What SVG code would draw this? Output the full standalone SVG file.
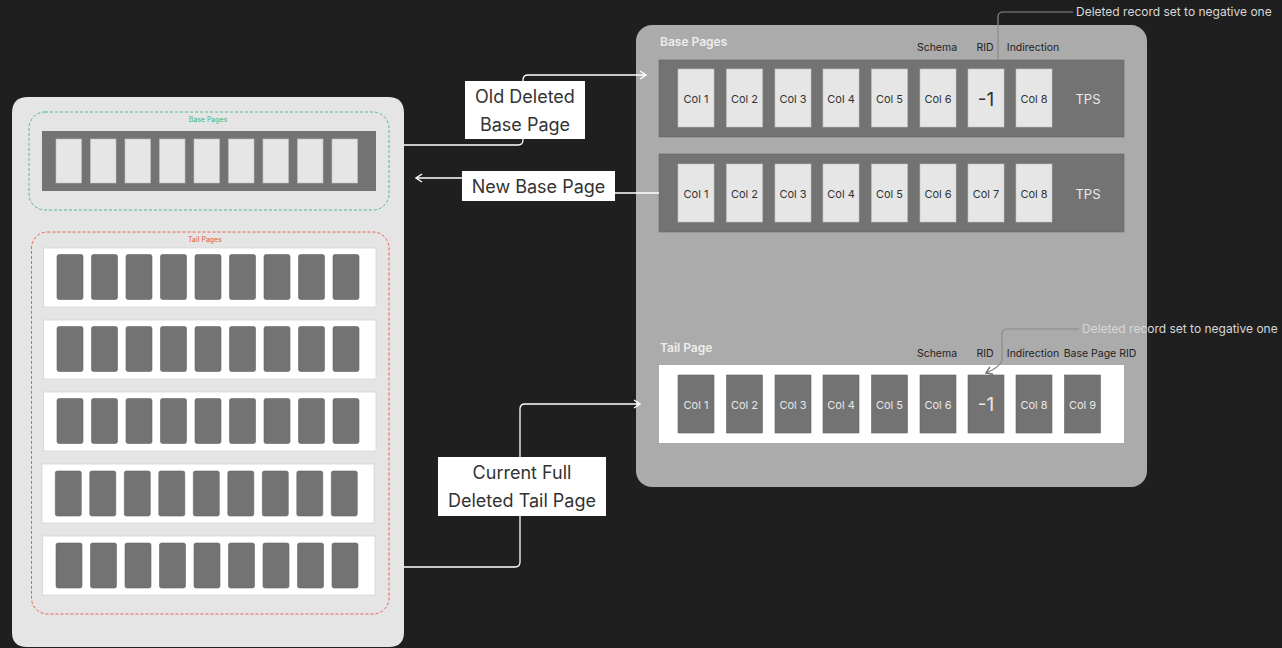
<svg xmlns="http://www.w3.org/2000/svg" xmlns:xlink="http://www.w3.org/1999/xlink" width="1282" height="648" viewBox="0 0 1282 648">
<style>
text{font-family:Inter,"Liberation Sans",sans-serif}
.lbl{font-size:18px;fill:#333;text-anchor:middle}
.col{font-size:11px;fill:#333;text-anchor:middle;dominant-baseline:central}
.colw{font-size:11px;fill:#e8e8e8;text-anchor:middle;dominant-baseline:central}
.big{font-size:19px}
.hdr{font-size:10.5px;fill:#222;text-anchor:middle}
.ttl{font-size:12px;font-weight:600;fill:#eeeeee}
.note{font-size:12px;fill:#d8d8d8}
.conn{fill:none;stroke:#ffffff;stroke-width:1.3}
.ann{fill:none;stroke:#8a8a8a;stroke-width:1.2}
.lcell{fill:#e6e6e6;stroke:#c4c4c4;stroke-width:0.6}
.dcell{fill:#737373;stroke:#666;stroke-width:0.6}
.trow{fill:#ffffff;stroke:#d4d4d4;stroke-width:0.8}
</style>
<defs>
<marker id="arr" viewBox="0 0 10 10" refX="9" refY="5" markerWidth="10" markerHeight="10" markerUnits="userSpaceOnUse" orient="auto">
<path d="M3,1 L9,5 L3,9" fill="none" stroke="#ffffff" stroke-width="1.4"/>
</marker>
<marker id="arrg" viewBox="0 0 10 10" refX="9" refY="5" markerWidth="10" markerHeight="10" markerUnits="userSpaceOnUse" orient="auto">
<path d="M3,1 L9,5 L3,9" fill="none" stroke="#6f6f6f" stroke-width="1.4"/>
</marker>
<g id="tcells">
<rect class="dcell" x="0" y="0" width="26" height="45" rx="2"/>
<rect class="dcell" x="34.5" y="0" width="26" height="45" rx="2"/>
<rect class="dcell" x="69" y="0" width="26" height="45" rx="2"/>
<rect class="dcell" x="103.5" y="0" width="26" height="45" rx="2"/>
<rect class="dcell" x="138" y="0" width="26" height="45" rx="2"/>
<rect class="dcell" x="172.5" y="0" width="26" height="45" rx="2"/>
<rect class="dcell" x="207" y="0" width="26" height="45" rx="2"/>
<rect class="dcell" x="241.5" y="0" width="26" height="45" rx="2"/>
<rect class="dcell" x="276" y="0" width="26" height="45" rx="2"/>
</g>
</defs>
<rect x="0" y="0" width="1282" height="648" fill="#1f1f1f"/>

<g id="left-panel">
<path d="M12,113 Q12,97 28,97 H388 Q404,97 404,113 V632 Q404,647 389,647 H27 Q12,647 12,632 Z" fill="#e5e5e5"/>
</g>

<g id="left-base-pages">
<rect x="29" y="112" width="360" height="98" rx="16" fill="none" stroke="#3cb878" stroke-width="0.9" stroke-dasharray="3,2"/>
<text x="208" y="122" font-size="7" fill="#3cb878" text-anchor="middle">Base Pages</text>
<rect x="42" y="131" width="334" height="60" fill="#737373"/>
<rect class="lcell" x="56" y="139" width="25.5" height="44"/>
<rect class="lcell" x="90.5" y="139" width="25.5" height="44"/>
<rect class="lcell" x="125" y="139" width="25.5" height="44"/>
<rect class="lcell" x="159.5" y="139" width="25.5" height="44"/>
<rect class="lcell" x="194" y="139" width="25.5" height="44"/>
<rect class="lcell" x="228.5" y="139" width="25.5" height="44"/>
<rect class="lcell" x="263" y="139" width="25.5" height="44"/>
<rect class="lcell" x="297.5" y="139" width="25.5" height="44"/>
<rect class="lcell" x="332" y="139" width="25.5" height="44"/>
</g>

<g id="left-tail-pages">
<rect x="31.5" y="232" width="357.5" height="382" rx="16" fill="none" stroke="#e5533d" stroke-width="0.9" stroke-dasharray="3,2"/>
<text x="205" y="242" font-size="7" fill="#e5533d" text-anchor="middle">Tail Pages</text>
<rect class="trow" x="43.5" y="248" width="332.5" height="59"/>
<use xlink:href="#tcells" x="57" y="254.5"/>
<rect class="trow" x="43.5" y="320" width="332.5" height="59"/>
<use xlink:href="#tcells" x="57" y="326.5"/>
<rect class="trow" x="43.5" y="392" width="332.5" height="59"/>
<use xlink:href="#tcells" x="57" y="398.5"/>
<rect class="trow" x="42" y="464" width="332" height="59"/>
<use xlink:href="#tcells" x="55.3" y="471"/>
<rect class="trow" x="42.7" y="536" width="332.3" height="59"/>
<use xlink:href="#tcells" x="56" y="543"/>
</g>

<g id="right-panel">
<rect x="636" y="25" width="511" height="462" rx="16" fill="#ababab"/>
</g>

<g id="base-page-1">
<text class="ttl" x="660" y="46">Base Pages</text>
<text class="hdr" x="937" y="51">Schema</text>
<text class="hdr" x="985" y="51">RID</text>
<text class="hdr" x="1033" y="51">Indirection</text>
<rect x="659" y="60" width="465" height="77" fill="#737373" stroke="#666" stroke-width="0.6"/>
<rect class="lcell" x="678" y="69" width="36" height="58"/><text class="col" x="696" y="99">Col 1</text>
<rect class="lcell" x="726.5" y="69" width="36" height="58"/><text class="col" x="744.5" y="99">Col 2</text>
<rect class="lcell" x="775" y="69" width="36" height="58"/><text class="col" x="793" y="99">Col 3</text>
<rect class="lcell" x="823" y="69" width="36" height="58"/><text class="col" x="841" y="99">Col 4</text>
<rect class="lcell" x="871.5" y="69" width="36" height="58"/><text class="col" x="889.5" y="99">Col 5</text>
<rect class="lcell" x="920" y="69" width="36" height="58"/><text class="col" x="938" y="99">Col 6</text>
<rect class="lcell" x="968" y="69" width="36" height="58"/><text class="col big" x="986" y="99">-1</text>
<rect class="lcell" x="1016" y="69" width="36" height="58"/><text class="col" x="1034" y="99">Col 8</text>
<text x="1088" y="99" font-size="13" fill="#e8e8e8" text-anchor="middle" dominant-baseline="central">TPS</text>
</g>

<g id="base-page-2">
<rect x="659" y="154" width="465" height="78" fill="#737373" stroke="#666" stroke-width="0.6"/>
<rect class="lcell" x="678" y="164" width="36" height="58"/><text class="col" x="696" y="193.5">Col 1</text>
<rect class="lcell" x="726.5" y="164" width="36" height="58"/><text class="col" x="744.5" y="193.5">Col 2</text>
<rect class="lcell" x="775" y="164" width="36" height="58"/><text class="col" x="793" y="193.5">Col 3</text>
<rect class="lcell" x="823" y="164" width="36" height="58"/><text class="col" x="841" y="193.5">Col 4</text>
<rect class="lcell" x="871.5" y="164" width="36" height="58"/><text class="col" x="889.5" y="193.5">Col 5</text>
<rect class="lcell" x="920" y="164" width="36" height="58"/><text class="col" x="938" y="193.5">Col 6</text>
<rect class="lcell" x="968" y="164" width="36" height="58"/><text class="col" x="986" y="193.5">Col 7</text>
<rect class="lcell" x="1016" y="164" width="36" height="58"/><text class="col" x="1034" y="193.5">Col 8</text>
<text x="1088" y="193.5" font-size="13" fill="#e8e8e8" text-anchor="middle" dominant-baseline="central">TPS</text>
</g>

<g id="tail-page">
<text class="ttl" x="660" y="352">Tail Page</text>
<text class="hdr" x="937" y="357">Schema</text>
<text class="hdr" x="985" y="357">RID</text>
<text class="hdr" x="1033" y="357">Indirection</text>
<text class="hdr" x="1100" y="357">Base Page RID</text>
<rect x="659" y="365" width="465" height="78" fill="#ffffff"/>
<rect class="dcell" x="678" y="375" width="36" height="58"/><text class="colw" x="696" y="404.5">Col 1</text>
<rect class="dcell" x="726.5" y="375" width="36" height="58"/><text class="colw" x="744.5" y="404.5">Col 2</text>
<rect class="dcell" x="775" y="375" width="36" height="58"/><text class="colw" x="793" y="404.5">Col 3</text>
<rect class="dcell" x="823" y="375" width="36" height="58"/><text class="colw" x="841" y="404.5">Col 4</text>
<rect class="dcell" x="871.5" y="375" width="36" height="58"/><text class="colw" x="889.5" y="404.5">Col 5</text>
<rect class="dcell" x="920" y="375" width="36" height="58"/><text class="colw" x="938" y="404.5">Col 6</text>
<rect class="dcell" x="968" y="375" width="36" height="58"/><text class="colw big" x="986" y="404.5">-1</text>
<rect class="dcell" x="1016" y="375" width="36" height="58"/><text class="colw" x="1034" y="404.5">Col 8</text>
<rect class="dcell" x="1064.5" y="375" width="36" height="58"/><text class="colw" x="1082.5" y="404.5">Col 9</text>
</g>

<g id="connectors">
<path class="conn" d="M404,145 H518 Q523,145 523,140 V80 Q523,75 528,75 H646" marker-end="url(#arr)"/>
<path class="conn" d="M659,193 H540 V178 H416" marker-end="url(#arr)"/>
<path class="conn" d="M404,567 H515 Q520,567 520,562 V409 Q520,404 525,404 H640" marker-end="url(#arr)"/>
<path class="ann" d="M1073,12 H1003 Q998,12 998,17 V60"/>
<path class="ann" d="M1079,329 H1007 Q1002,329 1002,334 V359 Q1002,366 986,373" stroke="#6f6f6f" marker-end="url(#arrg)"/>
</g>

<g id="label-old-deleted">
<rect x="465" y="81" width="120" height="58" fill="#ffffff"/>
<text class="lbl" x="525" y="103">Old Deleted</text>
<text class="lbl" x="525" y="131">Base Page</text>
</g>
<g id="label-new-base">
<rect x="462" y="171" width="153" height="30" fill="#ffffff"/>
<text class="lbl" x="538.5" y="192.5">New Base Page</text>
</g>
<g id="label-current-full">
<rect x="438" y="457" width="168" height="59" fill="#ffffff"/>
<text class="lbl" x="522" y="479">Current Full</text>
<text class="lbl" x="522" y="507">Deleted Tail Page</text>
</g>
<g id="notes">
<text class="note" x="1076" y="16">Deleted record set to negative one</text>
<text class="note" x="1082" y="333">Deleted record set to negative one</text>
</g>
</svg>
